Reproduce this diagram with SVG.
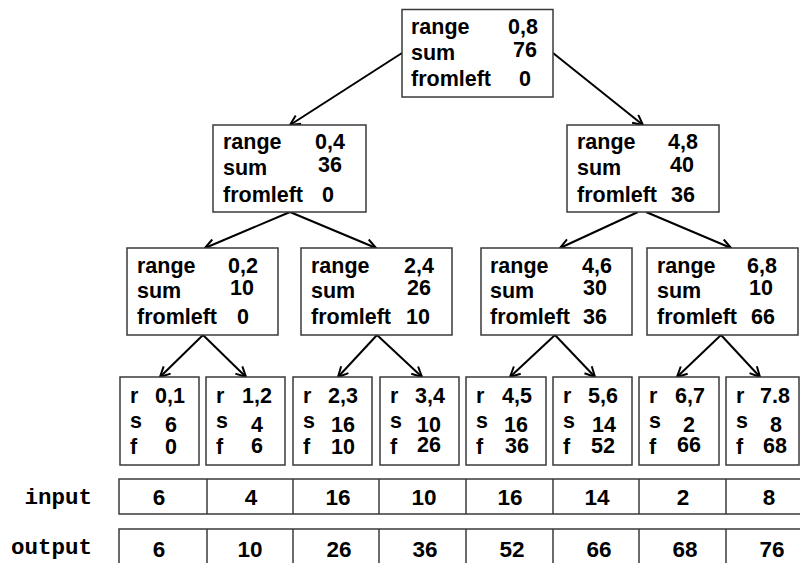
<svg xmlns="http://www.w3.org/2000/svg" width="800" height="563" viewBox="0 0 800 563">
<style>
.box{fill:#fff;stroke:#3a3a3a;stroke-width:1.5}
.t{font-family:"Liberation Sans",Arial,sans-serif;font-weight:bold;font-size:21.5px;fill:#000}
.v{font-family:"Liberation Sans",Arial,sans-serif;font-weight:bold;font-size:21.5px;fill:#000;text-anchor:middle}
.n{font-family:"Liberation Sans",Arial,sans-serif;font-weight:bold;font-size:22.5px;fill:#000;text-anchor:middle}
.m{font-family:"Liberation Mono","Courier New",monospace;font-weight:bold;font-size:22.5px;fill:#000;text-anchor:end}
.e{stroke:#000;stroke-width:2;fill:none;marker-end:url(#ah)}
.row{fill:#fff;stroke:#3a3a3a;stroke-width:1.5}
.div{stroke:#3a3a3a;stroke-width:1.5}
</style>
<defs>
<marker id="ah" markerUnits="userSpaceOnUse" viewBox="0 0 12 12" refX="11" refY="6" markerWidth="12" markerHeight="12" orient="auto">
<path d="M1,1 L11,6 L1,11" fill="none" stroke="#000" stroke-width="2"/>
</marker>
</defs>
<rect width="800" height="563" fill="#fff"/>
<g id="connectors">
<line class="e" x1="402" y1="53" x2="290" y2="125"/>
<line class="e" x1="553" y1="53" x2="643" y2="125"/>
<line class="e" x1="290" y1="212" x2="205" y2="248"/>
<line class="e" x1="290" y1="212" x2="376" y2="248"/>
<line class="e" x1="638" y1="212" x2="560" y2="248"/>
<line class="e" x1="646" y1="212" x2="731" y2="248"/>
<line class="e" x1="203" y1="335" x2="160" y2="377"/>
<line class="e" x1="203" y1="335" x2="246" y2="377"/>
<line class="e" x1="377" y1="335" x2="338" y2="377"/>
<line class="e" x1="377" y1="335" x2="422" y2="377"/>
<line class="e" x1="555" y1="335" x2="510" y2="377"/>
<line class="e" x1="555" y1="335" x2="595" y2="377"/>
<line class="e" x1="721" y1="335" x2="677" y2="377"/>
<line class="e" x1="721" y1="335" x2="760" y2="377"/>
</g>
<g id="root">
<rect class="box" x="402" y="9.5" width="151" height="87.5"/>
<text class="t" x="411" y="34">range</text><text class="t" x="411" y="60">sum</text><text class="t" x="411" y="86">fromleft</text>
<text class="v" x="523" y="34">0,8</text><text class="v" x="525" y="57">76</text><text class="v" x="525" y="86">0</text>
</g>
<g id="n04">
<rect class="box" x="213" y="125" width="153" height="87"/>
<text class="t" x="223" y="149">range</text><text class="t" x="223" y="175">sum</text><text class="t" x="223" y="202">fromleft</text>
<text class="v" x="330" y="149">0,4</text><text class="v" x="330" y="172">36</text><text class="v" x="328" y="202">0</text>
</g>
<g id="n48">
<rect class="box" x="567" y="125" width="152" height="87"/>
<text class="t" x="577" y="149">range</text><text class="t" x="577" y="175">sum</text><text class="t" x="577" y="202">fromleft</text>
<text class="v" x="683" y="149">4,8</text><text class="v" x="682" y="172">40</text><text class="v" x="683" y="202">36</text>
</g>
<g id="n02">
<rect class="box" x="127" y="248" width="151" height="87"/>
<text class="t" x="137" y="273">range</text><text class="t" x="137" y="298">sum</text><text class="t" x="137" y="324">fromleft</text>
<text class="v" x="243" y="273">0,2</text><text class="v" x="242" y="295">10</text><text class="v" x="243" y="324">0</text>
</g>
<g id="n24">
<rect class="box" x="301" y="248" width="151" height="87"/>
<text class="t" x="311" y="273">range</text><text class="t" x="311" y="298">sum</text><text class="t" x="311" y="324">fromleft</text>
<text class="v" x="419" y="273">2,4</text><text class="v" x="419" y="295">26</text><text class="v" x="418" y="324">10</text>
</g>
<g id="n46">
<rect class="box" x="481" y="248" width="151" height="87"/>
<text class="t" x="490" y="273">range</text><text class="t" x="490" y="298">sum</text><text class="t" x="490" y="324">fromleft</text>
<text class="v" x="597" y="273">4,6</text><text class="v" x="595" y="295">30</text><text class="v" x="595" y="324">36</text>
</g>
<g id="n68">
<rect class="box" x="647" y="248" width="151" height="87"/>
<text class="t" x="657" y="273">range</text><text class="t" x="657" y="298">sum</text><text class="t" x="657" y="324">fromleft</text>
<text class="v" x="762" y="273">6,8</text><text class="v" x="761" y="295">10</text><text class="v" x="763" y="324">66</text>
</g>
<g id="l01">
<rect class="box" x="120" y="377" width="79" height="88"/>
<text class="t" x="130" y="403">r</text><text class="t" x="130" y="428">s</text><text class="t" x="130" y="454">f</text>
<text class="v" x="170" y="403">0,1</text><text class="v" x="171" y="432">6</text><text class="v" x="171" y="454">0</text>
</g>
<g id="l12">
<rect class="box" x="206" y="377" width="79" height="88"/>
<text class="t" x="216" y="403">r</text><text class="t" x="216" y="428">s</text><text class="t" x="216" y="454">f</text>
<text class="v" x="257" y="403">1,2</text><text class="v" x="257" y="432">4</text><text class="v" x="257" y="453">6</text>
</g>
<g id="l23">
<rect class="box" x="293" y="377" width="79" height="88"/>
<text class="t" x="303" y="403">r</text><text class="t" x="303" y="428">s</text><text class="t" x="303" y="454">f</text>
<text class="v" x="343" y="403">2,3</text><text class="v" x="343" y="432">16</text><text class="v" x="343" y="454">10</text>
</g>
<g id="l34">
<rect class="box" x="380" y="377" width="79" height="88"/>
<text class="t" x="390" y="403">r</text><text class="t" x="390" y="428">s</text><text class="t" x="390" y="454">f</text>
<text class="v" x="430" y="403">3,4</text><text class="v" x="429" y="432">10</text><text class="v" x="429" y="452">26</text>
</g>
<g id="l45">
<rect class="box" x="466" y="377" width="80" height="88"/>
<text class="t" x="476" y="403">r</text><text class="t" x="476" y="428">s</text><text class="t" x="476" y="454">f</text>
<text class="v" x="517" y="403">4,5</text><text class="v" x="516" y="432">16</text><text class="v" x="517" y="453">36</text>
</g>
<g id="l56">
<rect class="box" x="553" y="377" width="79" height="88"/>
<text class="t" x="563" y="403">r</text><text class="t" x="563" y="428">s</text><text class="t" x="563" y="454">f</text>
<text class="v" x="603" y="403">5,6</text><text class="v" x="604" y="432">14</text><text class="v" x="603" y="453">52</text>
</g>
<g id="l67">
<rect class="box" x="639" y="377" width="80" height="88"/>
<text class="t" x="649" y="403">r</text><text class="t" x="649" y="428">s</text><text class="t" x="649" y="454">f</text>
<text class="v" x="690" y="403">6,7</text><text class="v" x="689" y="432">2</text><text class="v" x="689" y="452">66</text>
</g>
<g id="l78">
<rect class="box" x="726" y="377" width="73" height="88"/>
<text class="t" x="736" y="403">r</text><text class="t" x="736" y="428">s</text><text class="t" x="736" y="454">f</text>
<text class="v" x="775" y="403">7.8</text><text class="v" x="776" y="432">8</text><text class="v" x="775" y="453">68</text>
</g>
<g id="input">
<text class="m" x="92" y="504">input</text>
<rect class="row" x="119" y="479" width="700" height="35"/>
<line class="div" x1="207" y1="479" x2="207" y2="514"/>
<line class="div" x1="293" y1="479" x2="293" y2="514"/>
<line class="div" x1="379" y1="479" x2="379" y2="514"/>
<line class="div" x1="466" y1="479" x2="466" y2="514"/>
<line class="div" x1="553" y1="479" x2="553" y2="514"/>
<line class="div" x1="639" y1="479" x2="639" y2="514"/>
<line class="div" x1="726" y1="479" x2="726" y2="514"/>
<text class="n" x="159" y="505">6</text><text class="n" x="251" y="505">4</text><text class="n" x="338" y="505">16</text><text class="n" x="424" y="505">10</text>
<text class="n" x="510" y="505">16</text><text class="n" x="597" y="505">14</text><text class="n" x="683" y="505">2</text><text class="n" x="769" y="505">8</text>
</g>
<g id="output">
<text class="m" x="92" y="554">output</text>
<rect class="row" x="119" y="529" width="700" height="50"/>
<line class="div" x1="207" y1="529" x2="207" y2="563"/>
<line class="div" x1="293" y1="529" x2="293" y2="563"/>
<line class="div" x1="379" y1="529" x2="379" y2="563"/>
<line class="div" x1="466" y1="529" x2="466" y2="563"/>
<line class="div" x1="553" y1="529" x2="553" y2="563"/>
<line class="div" x1="639" y1="529" x2="639" y2="563"/>
<line class="div" x1="726" y1="529" x2="726" y2="563"/>
<text class="n" x="159" y="557">6</text><text class="n" x="250" y="557">10</text><text class="n" x="339" y="557">26</text><text class="n" x="425" y="557">36</text>
<text class="n" x="512" y="557">52</text><text class="n" x="599" y="557">66</text><text class="n" x="685" y="557">68</text><text class="n" x="772" y="557">76</text>
</g>
</svg>
